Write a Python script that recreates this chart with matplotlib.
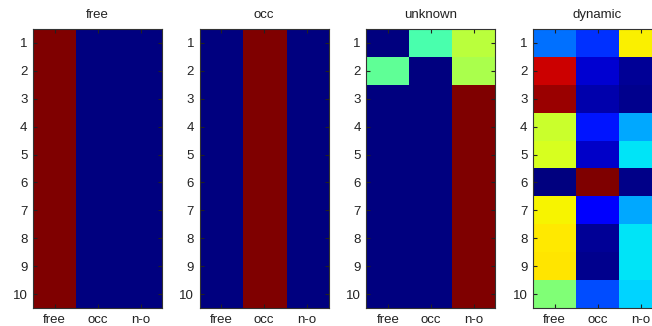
import numpy as np
import matplotlib
matplotlib.use("Agg")
import matplotlib.pyplot as plt

# Column / row labels
columns = ["free", "occ", "n-o"]
rows = [str(i) for i in range(1, 11)]
titles = ["free", "occ", "unknown", "dynamic"]

# Panel values (rows 1..10, columns free/occ/n-o)
free_vals = [[1, 0, 0]] * 10
occ_vals = [[0, 1, 0]] * 10
unknown_vals = [[0.00, 0.44, 0.576],
                [0.467, 0.00, 0.557]] + [[0, 0, 1]] * 8
dynamic_vals = [[0.235, 0.172, 0.655],
                [0.93, 0.071, 0.02],
                [0.976, 0.041, 0.012],
                [0.595, 0.145, 0.29],
                [0.61, 0.065, 0.35],
                [0.00, 1.00, 0.01],
                [0.652, 0.11, 0.29],
                [0.664, 0.02, 0.35],
                [0.667, 0.012, 0.35],
                [0.505, 0.20, 0.335]]

panels = [free_vals, occ_vals, unknown_vals, dynamic_vals]

W, H = 652, 326
fig = plt.figure(figsize=(W / 100, H / 100), dpi=100)
plt.rcParams["font.family"] = "Liberation Sans"

for i, (title, vals) in enumerate(zip(titles, panels)):
    left = 33 + 166.7 * i
    ax = fig.add_axes([left / W, 18 / H, 129 / W, 279 / H])
    data = np.array(vals, dtype=float)
    ax.imshow(data, cmap="jet", aspect="auto", interpolation="nearest",
              vmin=data.min(), vmax=data.max())
    ax.set_xticks(range(len(columns)))
    ax.set_xticklabels(columns)
    ax.set_yticks(range(len(rows)))
    ax.set_yticklabels(rows)
    ax.tick_params(direction="in", top=True, right=True, length=3,
                   width=0.8, labelsize=9.5, pad=4, colors="#222222")
    for sp in ax.spines.values():
        sp.set_color("#333333")
        sp.set_linewidth(0.8)
    ax.set_title(title, fontsize=9.5, pad=8, color="#222222")

fig.savefig("out.png", dpi=100)
